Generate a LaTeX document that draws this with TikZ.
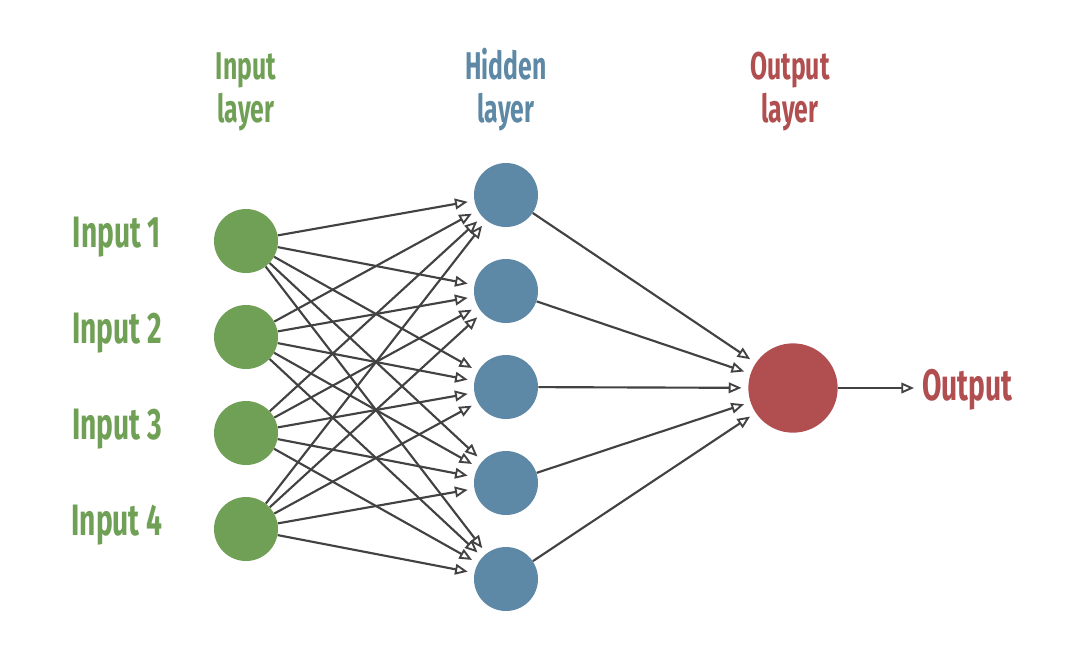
\documentclass[tikz,border=0pt]{standalone}
\usepackage{fontspec}
\newfontfamily\condfont[FakeStretch=0.64]{Fira Sans}
\usetikzlibrary{arrows.meta}
\definecolor{ngreen}{HTML}{6FA055}
\definecolor{nblue}{HTML}{5E89A6}
\definecolor{nred}{HTML}{B04E50}
\definecolor{edgegray}{HTML}{424242}
\begin{document}
\begin{tikzpicture}[x=0.75pt,y=-0.75pt,
  neuron/.style={circle,inner sep=0pt,minimum size=48pt},
  innode/.style={neuron,fill=ngreen},
  hidnode/.style={neuron,fill=nblue},
  outnode/.style={circle,inner sep=0pt,minimum size=67pt,fill=nred},
  lbl/.style={inner sep=0pt,anchor=base,font=\condfont\bfseries\fontsize{33pt}{36pt}\selectfont},
  head/.style={inner sep=0pt,anchor=base,font=\condfont\bfseries\fontsize{29pt}{32pt}\selectfont},
  conn/.style={draw=edgegray,line width=1.6pt,-{Triangle[open,length=9.5pt,width=8pt,line width=1.4pt]},shorten >=5pt}
]
\useasboundingbox (0,0) rectangle (1078,662);
% headers
\node[head,text=ngreen] (h1a) at (246,79) {Input};
\node[head,text=ngreen] (h1b) at (246,122) {layer};
\node[head,text=nblue] (h2a) at (506,79) {Hidden};
\node[head,text=nblue] (h2b) at (506,122) {layer};
\node[head,text=nred] (h3a) at (790,79) {Output};
\node[head,text=nred] (h3b) at (790,122) {layer};
% input nodes
\foreach \i/\y in {1/241,2/337,3/433,4/529}{
  \node[innode] (i\i) at (246,\y) {};
  \node[lbl,text=ngreen] (il\i) at (117,\y+6) {Input \i};
}
% hidden nodes
\foreach \j/\y in {1/195,2/291,3/387,4/483,5/579}{
  \node[hidnode] (h\j) at (506,\y) {};
}
% output
\node[outnode] (o) at (793,388) {};
\node[lbl,text=nred,anchor=base west] (ot) at (922,400) {Output};
\coordinate (oend) at (914,388);
% connections
\foreach \i in {1,...,4}{
  \foreach \j in {1,...,5}{
    \draw[conn] (i\i) -- (h\j);
  }
}
\foreach \j in {1,...,5}{
  \draw[conn] (h\j) -- (o);
}
\draw[conn,shorten >=0pt] (o) -- (oend);
\end{tikzpicture}
\end{document}
